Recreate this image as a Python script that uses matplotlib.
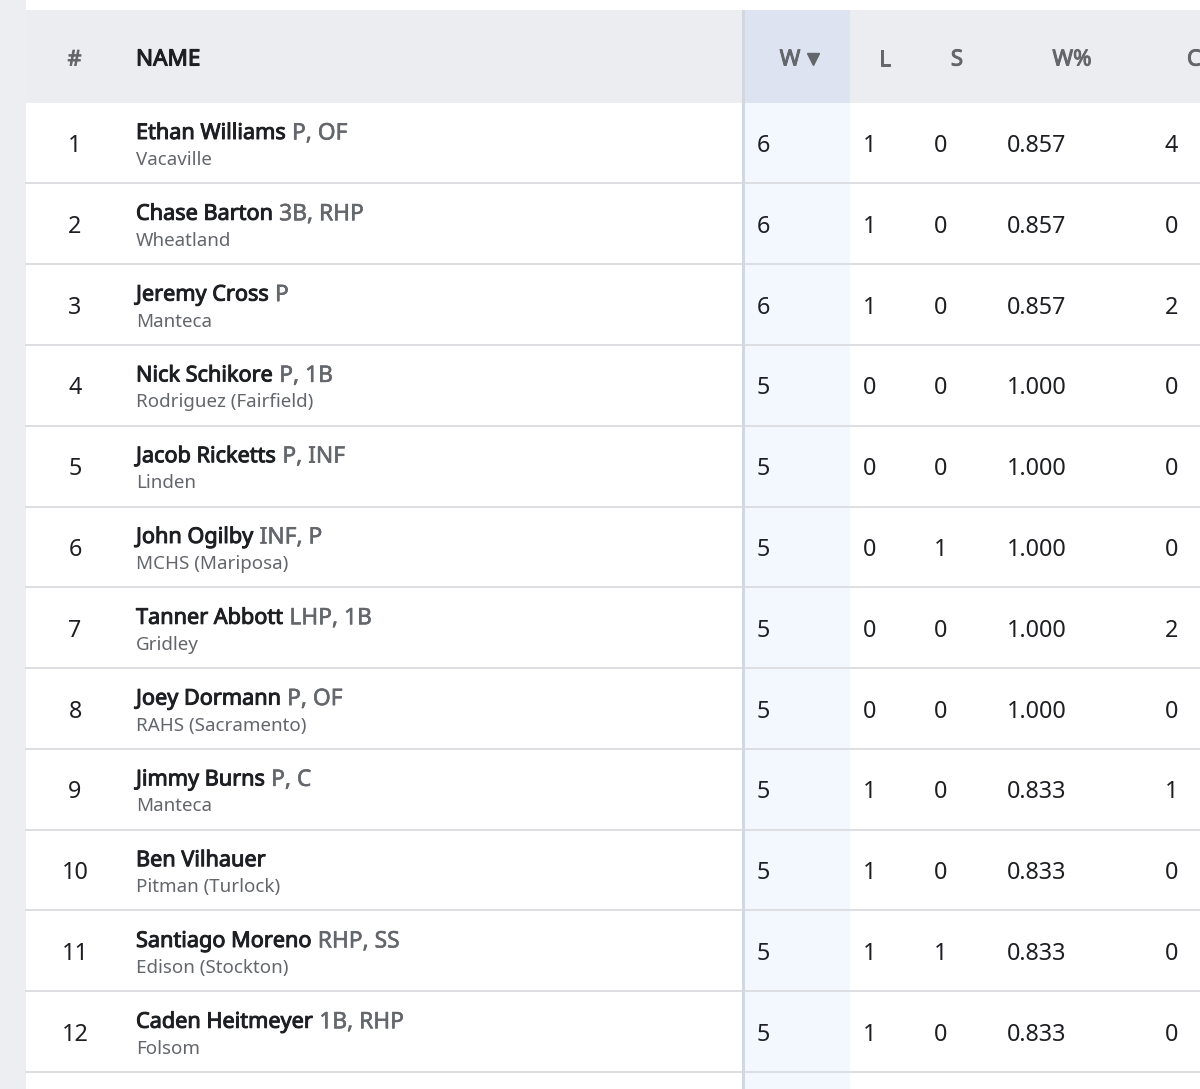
import matplotlib
matplotlib.use("Agg")
import matplotlib.pyplot as plt
import matplotlib.patheffects as pe
from matplotlib.patches import Rectangle

plt.rcParams["font.family"] = ["Noto Sans", "DejaVu Sans"]

ranks = list(range(1, 13))
names = ["Ethan Williams", "Chase Barton", "Jeremy Cross", "Nick Schikore", "Jacob Ricketts", "John Ogilby",
         "Tanner Abbott", "Joey Dormann", "Jimmy Burns", "Ben Vilhauer", "Santiago Moreno", "Caden Heitmeyer"]
positions = ["P, OF", "3B, RHP", "P", "P, 1B", "P, INF", "INF, P", "LHP, 1B", "P, OF", "P, C", "", "RHP, SS", "1B, RHP"]
schools = ["Vacaville", "Wheatland", "Manteca", "Rodriguez (Fairfield)", "Linden", "MCHS (Mariposa)",
           "Gridley", "RAHS (Sacramento)", "Manteca", "Pitman (Turlock)", "Edison (Stockton)", "Folsom"]
wins = [6, 6, 6, 5, 5, 5, 5, 5, 5, 5, 5, 5]
losses = [1, 1, 1, 0, 0, 0, 0, 0, 1, 1, 1, 1]
saves = [0, 0, 0, 0, 0, 1, 0, 0, 0, 0, 1, 0]
win_pct = ["0.857", "0.857", "0.857", "1.000", "1.000", "1.000", "1.000", "1.000", "0.833", "0.833", "0.833", "0.833"]
last_col = [4, 0, 2, 0, 0, 0, 2, 0, 1, 0, 0, 0]
stat_headers = ["L", "S", "W%", "C"]
stat_header_x = [885, 957, 1072, 1194]

DARK = "#1d1f23"
GREY = "#63666b"
FIRST_ROW = 103
ROW_H = 80.8

fig = plt.figure(figsize=(12, 10.89), dpi=100)
ax = fig.add_axes([0, 0, 1, 1])
ax.set_xlim(0, 1200)
ax.set_ylim(1089, 0)
ax.axis("off")


def box(x, y, w, h, color, z=1):
    ax.add_patch(Rectangle((x, y), w, h, facecolor=color, edgecolor="none", zorder=z))


# the installed Noto Sans only gives one weight here, so thicken the heavy text with a stroke
def heavy(x, y, s, size, color, width=0.7, ha="left", z=4):
    t = ax.text(x, y, s, fontsize=size, color=color, ha=ha, va="center", zorder=z)
    t.set_path_effects([pe.withStroke(linewidth=width, foreground=color)])
    return t


# page background and table body
box(0, 0, 1200, 1089, "#eceef2", 0)
box(26, 0, 1174, 1089, "white", 0)

# header band
box(26, 10, 1174, 93, "#ebedf1")
box(742, 10, 108, 93, "#dde3f1", 2)
box(744, 103, 106, 986, "#f3f7fe", 2)
box(741.5, 10, 3, 1079, "#d3d7e0", 3)

heavy(74.5, 60, "#", 15.5, GREY, ha="center")
heavy(136, 60, "NAME", 16.2, DARK, width=0.8)
heavy(790, 60, "W", 16, GREY, ha="center")
ax.plot([813], [58.5], marker="v", markersize=9, color=GREY, linestyle="none", zorder=4)
for label, x in zip(stat_headers, stat_header_x):
    heavy(x, 60, label, 16, GREY, ha="center")

renderer = fig.canvas.get_renderer()
for i, rank in enumerate(ranks):
    top = FIRST_ROW + i * ROW_H
    mid = top + 43
    ax.plot([26, 1200], [top + ROW_H - 0.5] * 2, color="#dcdee2", linewidth=1.4, zorder=2.5)
    ax.text(75, mid, str(rank), fontsize=16.8, color=DARK, ha="center", va="center")
    name_txt = heavy(136, top + 30.5, names[i], 15.6, DARK)
    x_end = ax.transData.inverted().transform(name_txt.get_window_extent(renderer))[1][0]
    if positions[i]:
        heavy(x_end + 6, top + 30.5, positions[i], 16.4, GREY, width=0.4)
    ax.text(136, top + 57, schools[i], fontsize=13.5, color=GREY, ha="left", va="center")
    ax.text(763.5, mid, str(wins[i]), fontsize=16.8, color=DARK, ha="center", va="center", zorder=4)
    ax.text(870, mid, str(losses[i]), fontsize=16.8, color=DARK, ha="center", va="center")
    ax.text(941, mid, str(saves[i]), fontsize=16.8, color=DARK, ha="center", va="center")
    ax.text(1036.5, mid, win_pct[i], fontsize=16.8, color=DARK, ha="center", va="center")
    ax.text(1171.5, mid, str(last_col[i]), fontsize=16.8, color=DARK, ha="center", va="center")

fig.savefig("out.png", dpi=100)
plt.close(fig)
